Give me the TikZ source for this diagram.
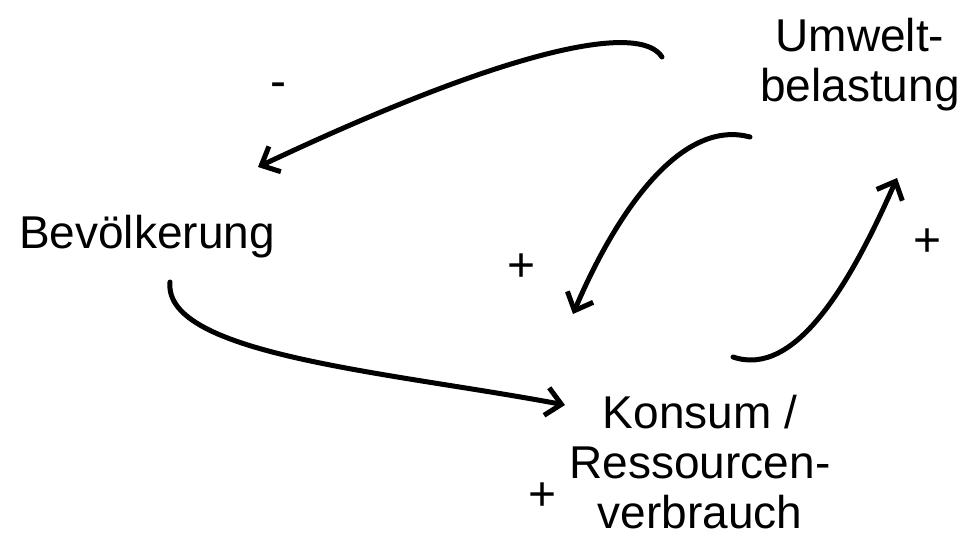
\documentclass[tikz,border=0pt]{standalone}
\usepackage{fontspec}
\setmainfont{Liberation Sans}
\usetikzlibrary{arrows.meta}
\begin{document}
\begin{tikzpicture}[x=1pt,y=-1pt,
  lbl/.style={font=\fontsize{46}{50}\selectfont, align=center, inner sep=0pt},
  sgn/.style={font=\fontsize{48}{52}\selectfont, inner sep=0pt},
  conn/.style={line width=5pt, line cap=round, -{Straight Barb[length=15pt,width=28pt,line width=5pt]}}]
\useasboundingbox (0,0) rectangle (962,539);
\node[lbl] (umw) at (860,65) {Umwelt-\\belastung};
\node[lbl] (bev) at (147,237) {Bevölkerung};
\node[lbl] (kon) at (700,462) {Konsum /\\Ressourcen-\\verbrauch};
\node[sgn] (s1) at (278,90) {-};
\node[sgn] (s2) at (522,268) {+};
\node[sgn] (s3) at (928,243) {+};
\node[sgn] (s4) at (543,497) {+};
\coordinate (a1s) at (662,57);
\coordinate (a1e) at (258,167);
\coordinate (a2s) at (750,137);
\coordinate (a2e) at (573,314);
\coordinate (a3s) at (733,357);
\coordinate (a3e) at (897,178);
\coordinate (a4s) at (170,282);
\coordinate (a4e) at (565,405);
\draw[conn] (a1s) .. controls (640,22) and (510,48) .. (a1e);
\draw[conn] (a2s) .. controls (680,118) and (615,215) .. (a2e);
\draw[conn] (a3s) .. controls (795,378) and (850,285) .. (a3e);
\draw[conn] (a4s) .. controls (163,355) and (390,372) .. (a4e);
\end{tikzpicture}
\end{document}
